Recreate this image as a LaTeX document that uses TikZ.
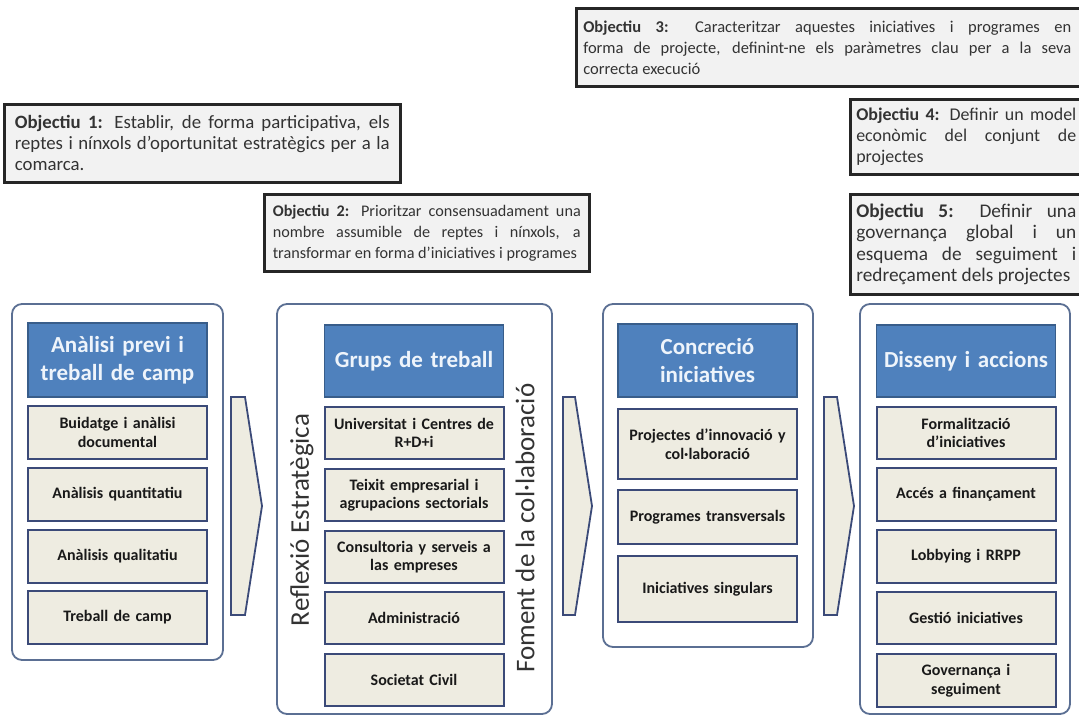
\documentclass[tikz,border=0pt]{standalone}
\usepackage{fontspec}
\setmainfont{Carlito}
\usepackage{xcolor}
\definecolor{hdrblue}{HTML}{4F81BD}
\definecolor{hdrline}{HTML}{385D8A}
\definecolor{hdrtext}{HTML}{EEF4FB}
\definecolor{itembg}{HTML}{EEECE1}
\definecolor{itemline}{HTML}{3B4A78}
\definecolor{colline}{HTML}{5B6F93}
\definecolor{objbg}{HTML}{F2F2F2}

\begin{document}
\begin{tikzpicture}[x=1pt, y=-1pt,
  objbox/.style={draw=black!85, line width=2.6pt, fill=objbg, anchor=north west, align=justify, inner ysep=1pt, font=\fontsize{16.5}{21}\selectfont, text=black!80},
  bigobj/.style={objbox, font=\fontsize{18.8}{21}\selectfont},
  column/.style={draw=colline, line width=1.8pt, rounded corners=10pt, fill=white, inner sep=0pt},
  header/.style={draw=hdrline, line width=1.2pt, fill=hdrblue, text=hdrtext, font=\fontsize{23}{28}\selectfont\bfseries, align=center, inner xsep=4pt, text width=171pt},
  item/.style={draw=itemline, line width=2pt, fill=itembg, font=\fontsize{16}{18.5}\selectfont\bfseries, align=center, inner xsep=3pt, text width=173pt, text=black!90},
  stagearrow/.style={draw=itemline, line width=1.8pt, fill=itembg, line join=miter},
  sidetext/.style={rotate=90, font=\fontsize{27}{30}\selectfont, text=black!80}
]
\path[use as bounding box, clip] (0,0) rectangle (1079,716);

% Stages
\node[column, minimum width=211pt, minimum height=356pt] (analisi) at (117.5,482) {};
\node[column, minimum width=275pt, minimum height=410pt] (grups) at (414.5,509) {};
\node[column, minimum width=210pt, minimum height=343pt] (concrecio) at (708,475.5) {};
\node[column, minimum width=210pt, minimum height=410pt] (disseny) at (965,509) {};

% Headers
\node[header, minimum height=74pt] (h1) at (117.5,360) {Anàlisi previ i\\treball de camp};
\node[header, minimum height=72pt] (h2) at (414,361) {Grups de treball};
\node[header, minimum height=73pt] (h3) at (707.5,360.5) {Concreció\\iniciatives};
\node[header, minimum height=72pt] (h4) at (966,361) {Disseny i accions};

% Stage 1
\node[item, minimum height=53pt] (a1) at (117.5,432.5) {Buidatge i anàlisi\\documental};
\node[item, minimum height=53pt] (a2) at (117.5,494) {Anàlisis quantitatiu};
\node[item, minimum height=53pt] (a3) at (117.5,556) {Anàlisis qualitatiu};
\node[item, minimum height=53pt] (a4) at (117.5,617.5) {Treball de camp};

% Stage 2
\node[item, minimum height=52pt] (g1) at (414,433) {Universitat i Centres de\\R+D+i};
\node[item, minimum height=52pt] (g2) at (414,495) {Teixit empresarial i\\agrupacions sectorials};
\node[item, minimum height=52pt] (g3) at (414,557) {Consultoria y serveis a\\las empreses};
\node[item, minimum height=52pt] (g4) at (414,618) {Administració};
\node[item, minimum height=52pt] (g5) at (414,680) {Societat Civil};
\node[sidetext] (reflexio) at (302,520) {Reflexió Estratègica};
\node[sidetext] (foment) at (525,528) {Foment de la col·laboració};

% Stage 3
\node[item, minimum height=70pt] (c1) at (707.5,444) {Projectes d’innovació y\\col·laboració};
\node[item, minimum height=54pt] (c2) at (707.5,517) {Programes transversals};
\node[item, minimum height=66pt] (c3) at (707.5,589) {Iniciatives singulars};

% Stage 4
\node[item, minimum height=52pt] (d1) at (966,433) {Formalització\\d’iniciatives};
\node[item, minimum height=53pt] (d2) at (966,494.5) {Accés a finançament};
\node[item, minimum height=53pt] (d3) at (966,556.5) {Lobbying i RRPP};
\node[item, minimum height=52pt] (d4) at (966,618) {Gestió iniciatives};
\node[item, minimum height=53pt] (d5) at (966,680.5) {Governança i\\seguiment};

% Arrows between stages
\draw[stagearrow] (231,397) -- (245,397) -- (262,506) -- (245,615) -- (231,615) -- cycle;
\draw[stagearrow] (563,397) -- (575,397) -- (592,506) -- (575,615) -- (563,615) -- cycle;
\draw[stagearrow] (824,397) -- (837,397) -- (854,506) -- (837,615) -- (824,615) -- cycle;

% Objectives (the right-hand ones run off the page edge)
\node[bigobj, text width=375pt, inner xsep=10.5pt, minimum height=78pt] (obj1) at (3,103)
  {{\bfseries Objectiu 1:} Establir, de forma participativa, els\linebreak reptes i nínxols d’oportunitat estratègics per a la\linebreak comarca.};
\node[objbox, font=\fontsize{16.2}{21}\selectfont, text width=308pt, inner xsep=8.5pt, minimum height=77pt] (obj2) at (263,193)
  {{\bfseries Objectiu 2:} Prioritzar consensuadament una\linebreak nombre assumible de reptes i nínxols, a\linebreak transformar en forma d’iniciatives i programes};
\node[objbox, text width=500pt, inner xsep=7pt, minimum height=78pt] (obj3) at (575,7)
  {\makebox[488pt][s]{{\bfseries Objectiu 3:} Caracteritzar aquestes iniciatives i programes en}\\
   \makebox[488pt][s]{forma de projecte, definint-ne els paràmetres clau per a la seva}\\
   correcta execució};
\node[bigobj, font=\fontsize{17.9}{21}\selectfont, text width=234pt, inner xsep=6pt, minimum height=75pt] (obj4) at (849,98)
  {\makebox[220pt][s]{{\bfseries Objectiu 4:} Definir un model}\\
   \makebox[220pt][s]{econòmic del conjunt de}\\
   projectes};
\node[bigobj, font=\fontsize{19.3}{21.5}\selectfont, text width=234pt, inner xsep=6pt, minimum height=100pt] (obj5) at (849,193)
  {\makebox[220pt][s]{{\bfseries Objectiu 5:} Definir una}\\
   \makebox[220pt][s]{governança global i un}\\
   \makebox[220pt][s]{esquema de seguiment i}\\
   redreçament dels projectes};
\end{tikzpicture}
\end{document}
